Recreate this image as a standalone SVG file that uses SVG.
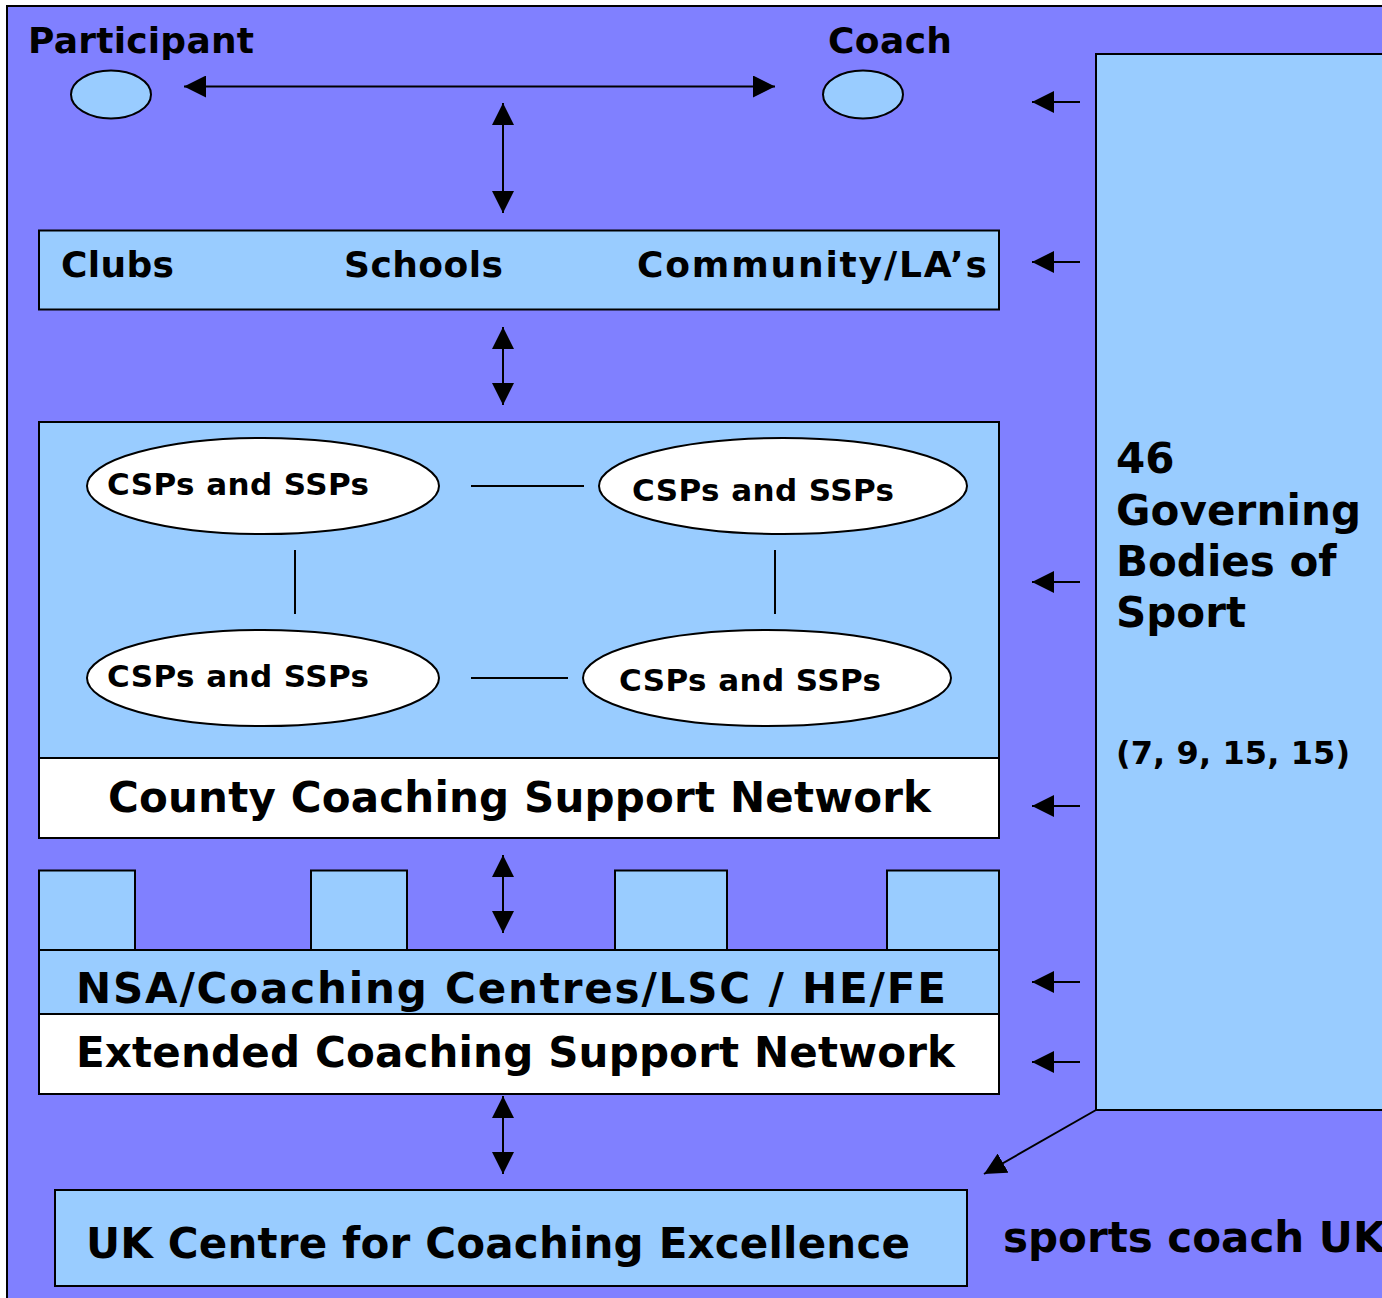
<svg xmlns="http://www.w3.org/2000/svg" width="1382" height="1298" viewBox="0 0 1382 1298">
<style>
text{font-family:"DejaVu Sans","Verdana",sans-serif;font-weight:bold;fill:#000}
.lb{fill:#99CCFF;stroke:#000;stroke-width:2}
.wh{fill:#FFFFFF;stroke:#000;stroke-width:2}
.ln{stroke:#000;stroke-width:2;fill:none}
.t36{font-size:36px}
.t31{font-size:31px}
.t42{font-size:42px}
.t32{font-size:32px}
</style>
<defs>
<marker id="ah" markerUnits="userSpaceOnUse" markerWidth="22" markerHeight="22" viewBox="0 0 20 20" refX="20" refY="10" orient="auto-start-reverse">
<path d="M0,0 L20,10 L0,20 z" fill="#000"/>
</marker>
</defs>
<rect x="0" y="0" width="1382" height="1298" fill="#FFFFFF"/>
<rect id="background" x="7" y="6" width="1400" height="1320" fill="#8080FF" stroke="#000" stroke-width="2"/>

<g id="governing-bodies">
<rect class="lb" x="1096" y="54" width="310" height="1056"/>
<text class="t42" x="1116" y="473">46</text>
<text class="t42" x="1116" y="525" textLength="245" lengthAdjust="spacing">Governing</text>
<text class="t42" x="1116" y="576">Bodies of</text>
<text class="t42" x="1116" y="627">Sport</text>
<text class="t32" x="1116" y="764" textLength="234" lengthAdjust="spacing">(7, 9, 15, 15)</text>
</g>

<g id="participant">
<text class="t36" x="28" y="53" textLength="226" lengthAdjust="spacing">Participant</text>
<ellipse class="lb" cx="111" cy="94.5" rx="40" ry="24"/>
</g>

<g id="coach">
<text class="t36" x="828" y="53" textLength="124" lengthAdjust="spacing">Coach</text>
<ellipse class="lb" cx="863" cy="94.5" rx="40" ry="24"/>
</g>

<g id="local-providers">
<rect class="lb" x="39" y="230.5" width="960" height="79"/>
<text class="t36" x="61" y="277" textLength="113" lengthAdjust="spacing">Clubs</text>
<text class="t36" x="344" y="277" textLength="159" lengthAdjust="spacing">Schools</text>
<text class="t36" x="637" y="277" textLength="350" lengthAdjust="spacing">Community/LA&#8217;s</text>
</g>

<g id="county-network">
<rect class="lb" x="39" y="422" width="960" height="336"/>
<rect class="wh" x="39" y="758" width="960" height="80"/>
<text class="t42" x="108" y="812" textLength="823" lengthAdjust="spacing">County Coaching Support Network</text>
</g>

<g id="csp-1">
<ellipse class="wh" cx="263" cy="486" rx="176" ry="48"/>
<text class="t31" x="107" y="495" textLength="262" lengthAdjust="spacing">CSPs and SSPs</text>
</g>
<g id="csp-2">
<ellipse class="wh" cx="783" cy="486" rx="184" ry="48"/>
<text class="t31" x="632" y="501" textLength="262" lengthAdjust="spacing">CSPs and SSPs</text>
</g>
<g id="csp-3">
<ellipse class="wh" cx="263" cy="678" rx="176" ry="48"/>
<text class="t31" x="107" y="687" textLength="262" lengthAdjust="spacing">CSPs and SSPs</text>
</g>
<g id="csp-4">
<ellipse class="wh" cx="767" cy="678" rx="184" ry="48"/>
<text class="t31" x="619" y="691" textLength="262" lengthAdjust="spacing">CSPs and SSPs</text>
</g>

<g id="extended-network">
<rect class="lb" x="39" y="870.5" width="96" height="80"/>
<rect class="lb" x="311" y="870.5" width="96" height="80"/>
<rect class="lb" x="615" y="870.5" width="112" height="80"/>
<rect class="lb" x="887" y="870.5" width="112" height="80"/>
<rect class="lb" x="39" y="950" width="960" height="64"/>
<text class="t42" x="76" y="1003" textLength="870" lengthAdjust="spacing">NSA/Coaching Centres/LSC / HE/FE</text>
<rect class="wh" x="39" y="1014" width="960" height="80"/>
<text class="t42" x="76" y="1067" textLength="879" lengthAdjust="spacing">Extended Coaching Support Network</text>
</g>

<g id="uk-centre">
<rect class="lb" x="55" y="1190" width="912" height="96"/>
<text class="t42" x="86" y="1258" textLength="824" lengthAdjust="spacing">UK Centre for Coaching Excellence</text>
</g>

<g id="sports-coach-uk">
<text class="t42" x="1003" y="1252">sports coach UK</text>
</g>

<g id="connectors">
<line class="ln" x1="184" y1="86.5" x2="775" y2="86.5" marker-start="url(#ah)" marker-end="url(#ah)"/>
<line class="ln" x1="503" y1="103" x2="503" y2="213" marker-start="url(#ah)" marker-end="url(#ah)"/>
<line class="ln" x1="503" y1="327" x2="503" y2="405" marker-start="url(#ah)" marker-end="url(#ah)"/>
<line class="ln" x1="503" y1="855" x2="503" y2="933" marker-start="url(#ah)" marker-end="url(#ah)"/>
<line class="ln" x1="503" y1="1096" x2="503" y2="1174" marker-start="url(#ah)" marker-end="url(#ah)"/>
<line class="ln" x1="471" y1="486" x2="584" y2="486"/>
<line class="ln" x1="471" y1="678" x2="568" y2="678"/>
<line class="ln" x1="295" y1="550" x2="295" y2="614"/>
<line class="ln" x1="775" y1="550" x2="775" y2="614"/>
<line class="ln" x1="1080" y1="102" x2="1032" y2="102" marker-end="url(#ah)"/>
<line class="ln" x1="1080" y1="262" x2="1032" y2="262" marker-end="url(#ah)"/>
<line class="ln" x1="1080" y1="582" x2="1032" y2="582" marker-end="url(#ah)"/>
<line class="ln" x1="1080" y1="806" x2="1032" y2="806" marker-end="url(#ah)"/>
<line class="ln" x1="1080" y1="982" x2="1032" y2="982" marker-end="url(#ah)"/>
<line class="ln" x1="1080" y1="1062" x2="1032" y2="1062" marker-end="url(#ah)"/>
<line class="ln" x1="1096" y1="1110" x2="984" y2="1174" marker-end="url(#ah)"/>
</g>
</svg>
